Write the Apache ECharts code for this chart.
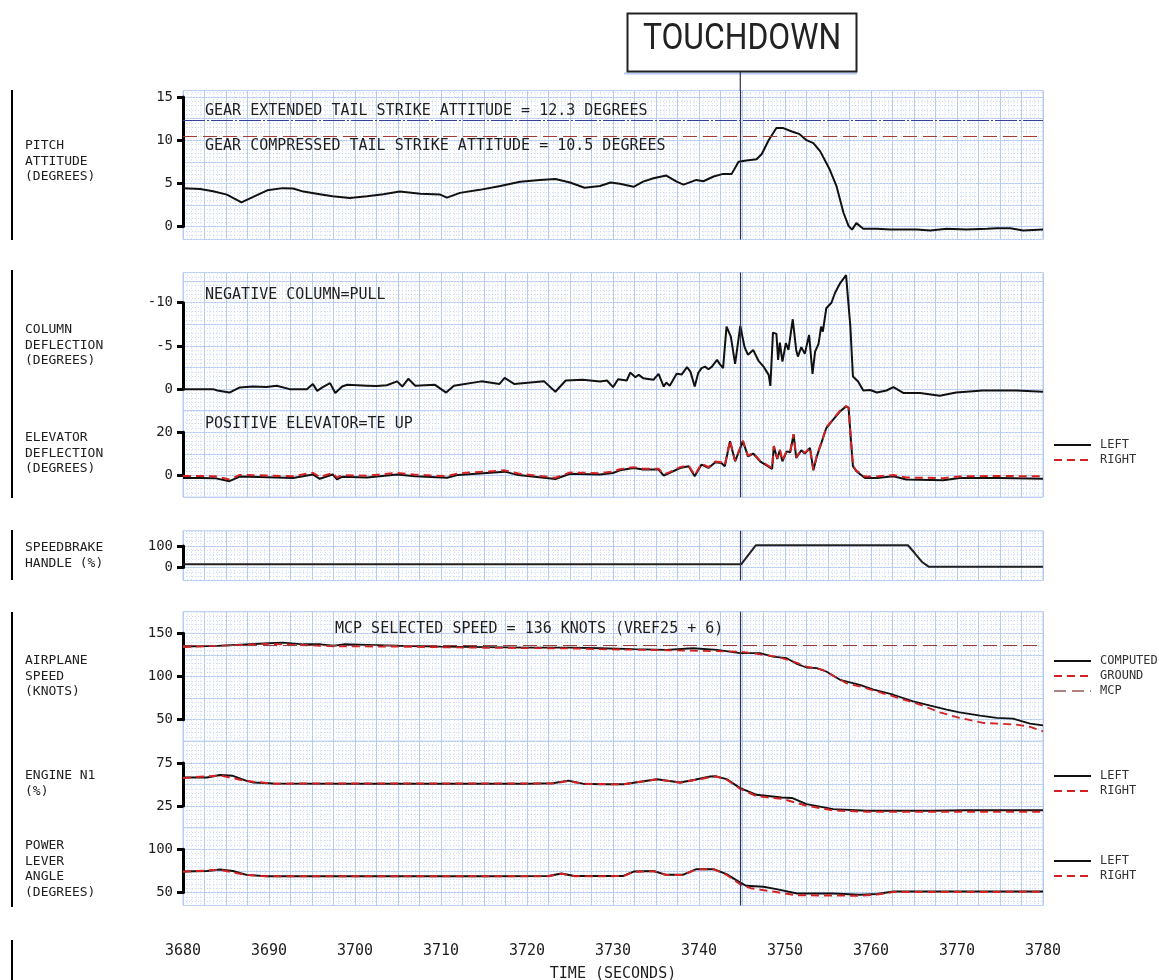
<!DOCTYPE html>
<html lang="en">
<head>
<meta charset="utf-8">
<title>Touchdown traces</title>
<script src="https://cdn.jsdelivr.net/npm/echarts@6/dist/echarts.min.js"></script>
<style>
  html, body { margin: 0; padding: 0; background: #fff; }
  #chart { width: 1159px; height: 980px; }
</style>
</head>
<body>
<div id="chart"></div>
<script>
// ---- values: [time (s), value] ----
var touchdownTime = 3744.8;
var gearExtendedLimit = 12.3;
var gearCompressedLimit = 10.5;
var mcpSpeed = 136;

var pitch = [[3680,4.45],[3682,4.35],[3683.5,4.1],[3685.1,3.7],[3686.8,2.8],[3688.1,3.4],[3689.8,4.2],[3691.6,4.45],
  [3692.8,4.4],[3694,4.05],[3695.9,3.75],[3697.4,3.5],[3699.4,3.3],[3701.4,3.5],[3703.3,3.75],[3705.2,4.05],[3707.6,3.8],
  [3709.9,3.7],[3710.7,3.35],[3712.2,3.9],[3714.5,4.25],[3716.9,4.7],[3719.2,5.2],[3721.5,5.4],[3723.3,5.5],[3725,5.1],
  [3726.7,4.5],[3728.5,4.7],[3729.7,5.1],[3730.8,4.95],[3732.4,4.6],[3733.5,5.2],[3734.7,5.6],[3736.2,5.9],[3737.4,5.2],
  [3738.2,4.85],[3739.7,5.4],[3740.5,5.25],[3741.7,5.8],[3742.8,6.1],[3743.8,6.1],[3744.6,7.5],[3745.5,7.65],[3746.7,7.8],
  [3747.3,8.4],[3748.1,10.0],[3749,11.4],[3749.8,11.4],[3750.8,11.0],[3751.7,10.7],[3752.5,10.0],[3753.3,9.65],[3754.1,8.7],
  [3755.2,6.6],[3756,4.65],[3756.8,1.6],[3757.4,0.05],[3757.8,-0.35],[3758.3,0.4],[3759.1,-0.25],[3760.7,-0.25],
  [3762.2,-0.35],[3765.3,-0.35],[3766.9,-0.45],[3768.8,-0.25],[3771.1,-0.35],[3773.5,-0.25],[3774.6,-0.2],[3776.2,-0.2],
  [3777.7,-0.45],[3780,-0.35]];

var column = [[3680,0],[3683.5,0],[3684,0.15],[3685.4,0.4],[3686.6,-0.2],[3688.1,-0.3],[3689.7,-0.25],[3690.9,-0.4],
  [3692.4,0],[3694.4,0],[3695.1,-0.6],[3695.6,0.2],[3696.2,-0.2],[3697.1,-0.7],[3697.7,0.45],[3698.5,-0.3],[3699.1,-0.5],
  [3701.4,-0.4],[3702.5,-0.35],[3703.7,-0.45],[3704.9,-0.9],[3705.5,-0.3],[3706.2,-1.2],[3707,-0.4],[3709.3,-0.5],
  [3710.6,0.4],[3711.5,-0.4],[3714.7,-0.9],[3716.8,-0.6],[3717.4,-1.3],[3718.5,-0.6],[3722,-0.9],[3723.3,0.3],[3724.5,-1.0],
  [3726.5,-1.1],[3728.5,-0.88],[3729.3,-1.0],[3730,-0.23],[3730.6,-1.15],[3731.6,-1.0],[3732,-1.92],[3732.6,-1.39],
  [3733,-1.65],[3733.5,-1.27],[3734.7,-1.08],[3735.3,-1.77],[3735.9,-0.3],[3736.2,-0.76],[3736.6,-0.38],[3737.4,-1.77],
  [3738,-1.7],[3738.6,-2.54],[3739,-2.03],[3739.5,-0.3],[3739.9,-1.85],[3740.3,-2.43],[3740.7,-2.61],[3741.1,-2.31],
  [3741.5,-2.61],[3742.1,-3.39],[3742.4,-2.92],[3742.8,-2.43],[3743.2,-7.24],[3743.7,-6.08],[3744.2,-2.92],[3744.8,-7.32],
  [3745.3,-4.86],[3745.7,-3.97],[3746.3,-4.54],[3746.9,-3.31],[3747.5,-2.61],[3748.1,-1.65],[3748.3,-0.38],[3748.6,-6.54],
  [3749,-6.39],[3749.2,-3.39],[3749.4,-5.39],[3749.7,-3.19],[3750.1,-5.32],[3750.4,-4.54],[3750.9,-8.09],[3751.3,-4.54],
  [3751.5,-3.77],[3751.9,-4.86],[3752.3,-4.08],[3752.8,-6.28],[3753.2,-1.77],[3753.5,-4.35],[3753.9,-5.24],[3754.2,-7.24],
  [3754.4,-6.66],[3754.8,-9.36],[3755.4,-10.0],[3755.8,-11.1],[3756.4,-12.25],[3757.1,-13.2],[3757.2,-13.1],[3757.6,-7.24],
  [3757.9,-1.46],[3758.5,-0.88],[3759.1,0.16],[3759.9,0.1],[3760.7,0.39],[3761.8,0.16],[3762.6,-0.23],[3763.8,0.46],
  [3765.7,0.46],[3768,0.77],[3769.9,0.39],[3773,0.16],[3776.9,0.16],[3780,0.31]];

var elevatorLeft = [[3680,-1.1],[3682,-1.1],[3683.7,-1.2],[3685.4,-2.6],[3686.6,-0.5],[3689.8,-0.8],[3692.8,-1.1],
  [3695.1,0.5],[3695.9,-1.5],[3697.4,0.5],[3697.9,-1.8],[3698.5,-0.6],[3701.4,-0.9],[3704.9,0.5],[3707,-0.3],[3710.7,-1.0],
  [3712,0.3],[3717.4,1.8],[3719,0.2],[3723.3,-1.6],[3725,0.8],[3728.5,0.46],[3730,1.2],[3730.8,2.4],[3732.4,3.5],
  [3733.5,2.8],[3735.3,2.8],[3735.9,0],[3736.6,1.2],[3737.8,3.5],[3738.8,4.3],[3739.5,-0.3],[3740.3,5.1],[3741.1,3.5],
  [3741.9,6.2],[3742.6,5.8],[3743,4.3],[3743.6,15.9],[3744.2,6.6],[3745.1,15.9],[3745.7,8.9],[3746.3,10.2],[3747.1,6.6],
  [3748.5,3.1],[3748.7,13.5],[3749.1,7.7],[3749.4,11.7],[3749.7,6.6],[3750.2,11.2],[3750.6,10.8],[3751,19],[3751.3,8.2],
  [3751.9,11.7],[3752.3,10.2],[3752.9,12.8],[3753.3,2.4],[3753.7,8.9],[3754.3,15.9],[3754.8,22],[3755.6,25.9],
  [3756.4,29.7],[3757.1,32],[3757.4,31.3],[3757.6,19.7],[3757.9,4.3],[3758.3,2],[3759.3,-1.1],[3760.7,-1.1],[3762.6,-0.3],
  [3764.1,-1.85],[3768.4,-2.2],[3770.3,-1.1],[3775,-1.1],[3780,-1.5]];

var elevatorRight = [[3680,-0.2],[3683.7,-0.3],[3685.4,-1.8],[3686.6,0.3],[3689.8,0],[3692.8,-0.3],[3695.1,1.3],
  [3695.9,-0.7],[3697.4,1.2],[3697.9,-1],[3698.5,0.2],[3701.4,-0.1],[3704.9,1.2],[3707,0.4],[3710.7,-0.3],[3712,1],
  [3717.4,2.4],[3719,0.9],[3723.3,-1],[3725,1.4],[3728.5,1.1],[3730,1.8],[3730.8,2.9],[3732.4,3.9],[3733.5,3.2],
  [3735.3,3.2],[3735.9,0.5],[3736.6,1.6],[3737.8,3.9],[3738.8,4.6],[3739.5,0.2],[3740.3,5.5],[3741.1,3.9],[3741.9,6.5],
  [3742.6,6.1],[3743,4.7],[3743.6,16.2],[3744.2,6.9],[3745.1,16.1],[3745.7,9.2],[3746.3,10.4],[3747.1,6.9],[3748.5,3.4],
  [3748.7,13.7],[3749.1,8],[3749.4,11.9],[3749.7,6.9],[3750.2,11.4],[3750.6,11],[3751,19.2],[3751.3,8.5],[3751.9,11.9],
  [3752.3,10.5],[3752.9,13],[3753.3,2.7],[3753.7,9.2],[3754.3,16.1],[3754.8,22.3],[3755.6,26.2],[3756.4,30],[3757.1,32.2],
  [3757.4,31.5],[3757.6,20],[3757.9,4.6],[3758.3,2.3],[3759.3,-0.5],[3760.7,-0.4],[3762.6,0.2],[3764.1,-0.9],
  [3768.4,-1.2],[3770.3,-0.4],[3775,-0.2],[3780,-0.4]];

var speedbrake = [[3680,15],[3744.9,15],[3746.6,103],[3764.3,103],[3765.1,66],[3765.9,27],[3766.7,4],[3780,4]];

var speedComputed = [[3680,134.6],[3684,135.4],[3690,138.5],[3691.6,139.2],[3694,137.3],[3696,137.3],[3697.5,135.6],
  [3698.7,137.3],[3701.4,136.7],[3705,135.6],[3710,134.5],[3715,134],[3720,133.5],[3725,133.5],[3728.5,132.7],
  [3732.4,131.6],[3736.2,130.8],[3739.3,132.7],[3742.1,130.8],[3744.8,127],[3747.1,127],[3748.6,123],[3750.2,121.2],
  [3751.3,115],[3752.5,110.4],[3753.7,109.7],[3754.8,105.8],[3756.4,96.2],[3758.7,90.4],[3760.3,84.7],[3762.6,78.9],
  [3764.9,71.2],[3766.9,66.2],[3768.8,61.6],[3770.3,58.5],[3772.7,54.7],[3774.6,52.1],[3776.5,51.3],[3778.5,45.5],
  [3780,43.5]];

var speedGround = [[3680,133.9],[3690,137.8],[3696,135.6],[3697.5,135],[3705,134.5],[3715,133.3],[3725,132.5],
  [3728.5,131.6],[3736.2,130.4],[3744.8,128.8],[3747.1,125.6],[3749,123],[3751,117.3],[3752.5,111.5],[3754.4,107.7],
  [3757.1,92.4],[3759.4,86.6],[3762.6,77],[3765.7,67.4],[3768,58.5],[3770.3,52.1],[3773,46.3],[3776.9,44.4],
  [3778.5,41.7],[3780,36.6]];

var n1Left = [[3680,58],[3682.8,58],[3684.3,61],[3685.8,60],[3687.4,54.2],[3688.2,52.3],[3690.5,51.1],[3700,51],
  [3710,51],[3720,51],[3723,51.5],[3724.8,54.5],[3726.5,51],[3728.5,50.4],[3731.2,50.4],[3733,53],[3735.1,56.2],
  [3737.8,52.3],[3739.5,55.5],[3741.3,59.2],[3741.9,59.6],[3743.2,56.2],[3744.8,45.8],[3746.7,38],[3749.6,35],
  [3750.8,34.5],[3752.5,27.3],[3755.6,21.5],[3759.5,19.5],[3767.2,19.5],[3771.1,20.3],[3780,20.3]];

var n1Right = [[3680,57.5],[3684.3,60.5],[3687.4,54],[3690.5,51],[3723,51.2],[3724.8,54],[3726.5,50.8],[3731.2,50.2],
  [3735.1,56],[3737.8,52],[3739.5,55.2],[3741.9,59.5],[3743.2,55.8],[3744.8,45],[3746.7,36.5],[3749.6,33.5],
  [3752.5,25.5],[3755.6,20],[3759.5,18.5],[3780,18.6]];

var plaLeft = [[3680,74.2],[3682.8,74.9],[3684.3,76.5],[3685.8,74.9],[3687.4,70.4],[3689.7,68.9],[3705.2,68.9],
  [3715,68.9],[3722.5,69],[3724,72],[3725.5,69],[3728.5,69.2],[3731.2,69.2],[3732.4,74.2],[3734.7,74.9],[3736.2,70.4],
  [3738.1,70.4],[3739.7,77],[3741.7,77],[3743.2,71.2],[3744.8,61.5],[3745.5,57.7],[3747.5,56.6],[3749,53.9],[3751.4,48.8],
  [3755.6,48.8],[3758.7,47.4],[3760.7,48.2],[3762.6,51.2],[3767.2,51.2],[3780,51.2]];

var plaRight = [[3680,74],[3684.3,76.3],[3687.4,70.2],[3689.7,68.8],[3722.5,68.8],[3724,71.8],[3725.5,68.8],
  [3731.2,69],[3732.4,74],[3734.7,74.7],[3736.2,70.2],[3738.1,70.2],[3739.7,76.8],[3741.7,76.8],[3743.2,70.5],
  [3744.8,59.5],[3746,55],[3749,50.5],[3751.4,46.8],[3755.6,46.5],[3758.7,46.3],[3760.7,47.6],[3762.6,50.5],[3780,50.8]];

// ---- layout ----
var T0 = 3680, T1 = 3780;
var LEFT = 183, WIDTH = 860, CELL = 21.6;
var MONO = '"DejaVu Sans Mono", monospace';
var MAJOR = '#b5cbf3', MINOR = '#cbdaf6';
var INK = '#1e1e1e';

// each panel: paper box (min..max) plus a black bracket axis over the labelled range
var panels = [
  {key: 'pitch', top: 90.5, min: -1.5, max: 15.75, major: 2.5, ticks: [0, 15], step: 5},
  {key: 'column', top: 272.5, min: -13.5, max: 2.5, major: 2.5, ticks: [-10, 0], step: 5, inverse: true},
  {key: 'elevator', min: -10, max: 30, major: 10, ticks: [0, 20], step: 20},
  {key: 'speedbrake', top: 530.8, min: -60, max: 170, major: 100, ticks: [0, 100], step: 100},
  {key: 'speed', top: 611.7, min: 25, max: 175, major: 25, ticks: [50, 150], step: 50},
  {key: 'n1', min: 0, max: 100, major: 25, ticks: [25, 75], step: 50},
  {key: 'pla', min: 35, max: 125, major: 25, ticks: [50, 100], step: 50}
];

var grids = [], xAxes = [], yAxes = [];
var ax = {};
var hide = {axisLine: {show: false}, axisTick: {show: false}, axisLabel: {show: false}};

panels.forEach(function (p, i) {
  if (p.top == null) p.top = panels[i - 1].top + panels[i - 1].h;
  p.h = (p.max - p.min) / p.major * CELL;
  var g = grids.length;
  grids.push({left: LEFT, width: WIDTH, top: p.top, height: p.h, show: true,
    borderColor: MAJOR, borderWidth: 1, backgroundColor: '#fff'});
  xAxes.push(Object.assign({gridIndex: g, type: 'value', min: T0, max: T1, interval: 2.5,
    splitLine: {show: true, lineStyle: {color: MAJOR, width: 1}},
    minorTick: {show: false, splitNumber: 5},
    minorSplitLine: {show: true, lineStyle: {color: MINOR, width: 1, type: [1, 2]}}}, hide));
  var majors = [];
  for (var k = Math.ceil(p.min / p.major - 1e-9); k * p.major <= p.max + 1e-9; k++) majors.push(+(k * p.major).toFixed(4));
  yAxes.push({gridIndex: g, type: 'value', min: p.min, max: p.max, inverse: !!p.inverse,
    axisLine: {show: false}, axisTick: {show: false, customValues: majors}, axisLabel: {show: false},
    splitLine: {show: true, lineStyle: {color: MAJOR, width: 1}}});
  yAxes.push(Object.assign({gridIndex: g, type: 'value', min: p.min, max: p.max, inverse: !!p.inverse,
    interval: p.major / 5, splitLine: {show: true, lineStyle: {color: MINOR, width: 1, type: [1, 2]}}}, hide));
  ax[p.key] = {x: xAxes.length - 1, y: yAxes.length - 2};

  var lo = p.ticks[0], hi = p.ticks[1];
  var bTop = p.inverse ? p.top + (lo - p.min) / p.major * CELL : p.top + (p.max - hi) / p.major * CELL;
  grids.push({left: LEFT, width: WIDTH, top: bTop, height: (hi - lo) / p.major * CELL});
  xAxes.push({gridIndex: g + 1, type: 'value', min: T0, max: T1, show: false});
  yAxes.push({gridIndex: g + 1, type: 'value', min: lo, max: hi, interval: p.step, inverse: !!p.inverse,
    axisLine: {show: true, onZero: false, lineStyle: {color: '#000', width: 3}},
    axisTick: {show: true, length: 6, lineStyle: {color: '#000', width: 3}},
    axisLabel: {margin: 10, color: INK, fontFamily: MONO, fontSize: 14},
    splitLine: {show: false}});
});

// time axis under everything
grids.push({left: LEFT, width: WIDTH, top: 930, height: 1});
xAxes.push({gridIndex: grids.length - 1, type: 'value', min: T0, max: T1, interval: 10,
  axisLine: {show: false}, axisTick: {show: false}, splitLine: {show: false},
  axisLabel: {margin: 13, color: INK, fontFamily: MONO, fontSize: 15, showMinLabel: true, showMaxLabel: true,
    formatter: function (v) { return String(v); }},
  name: 'TIME (SECONDS)', nameLocation: 'middle', nameGap: 36,
  nameTextStyle: {color: INK, fontFamily: MONO, fontSize: 15}});
yAxes.push({gridIndex: grids.length - 1, type: 'value', show: false});

function touchdown(extra) {
  return {silent: true, symbol: 'none', label: {show: false}, animation: false,
    lineStyle: {color: '#2c3150', width: 1.2, type: 'solid'},
    data: [{xAxis: touchdownTime}].concat(extra || [])};
}

function trace(name, data, key, color, dashed, width, mark, clip) {
  return {name: name, type: 'line', data: data, xAxisIndex: ax[key].x, yAxisIndex: ax[key].y,
    showSymbol: false, symbol: 'none', clip: clip !== false, z: 3,
    lineStyle: {color: color, width: width || 2, type: dashed ? [8, 5] : 'solid'},
    itemStyle: {color: color}, markLine: mark};
}

var BLACK = '#111', RED = '#d42222';
var series = [
  trace('PITCH', pitch, 'pitch', BLACK, false, 2, touchdown([
    {yAxis: gearExtendedLimit, lineStyle: {color: '#34429e', width: 1, type: [22, 2, 2, 2]}},
    {yAxis: gearCompressedLimit, lineStyle: {color: '#a23a36', width: 1, type: [14, 6]}}])),
  trace('COLUMN', column, 'column', BLACK, false, 2, touchdown()),
  trace('LEFT', elevatorLeft, 'elevator', BLACK, false, 2, touchdown(), false),
  trace('RIGHT', elevatorRight, 'elevator', RED, true, 2, null, false),
  trace('SPEEDBRAKE', speedbrake, 'speedbrake', '#222', false, 2, touchdown()),
  trace('COMPUTED', speedComputed, 'speed', BLACK, false, 1.8, touchdown()),
  trace('GROUND', speedGround, 'speed', RED, true, 1.8),
  {name: 'MCP', type: 'line', data: [], xAxisIndex: ax.speed.x, yAxisIndex: ax.speed.y, symbol: 'none',
    lineStyle: {color: '#b08282', width: 2, type: [12, 6]}, itemStyle: {color: '#b08282'},
    markLine: {silent: true, symbol: 'none', label: {show: false}, animation: false,
      lineStyle: {color: '#963c3c', width: 1, type: [14, 6]}, data: [{yAxis: mcpSpeed}]}},
  trace('LEFT', n1Left, 'n1', BLACK, false, 2, touchdown()),
  trace('RIGHT', n1Right, 'n1', RED, true, 2),
  trace('LEFT', plaLeft, 'pla', BLACK, false, 2, touchdown()),
  trace('RIGHT', plaRight, 'pla', RED, true, 2)
];

function legend(names, top) {
  return {data: names, left: 1053, top: top, orient: 'vertical', padding: 0,
    itemWidth: 37, itemHeight: 12, itemGap: 3, selectedMode: false,
    itemStyle: {color: 'rgba(0,0,0,0)', borderColor: 'rgba(0,0,0,0)', borderWidth: 0},
    textStyle: {color: '#333', fontFamily: MONO, fontSize: 12, padding: [0, 0, 0, 4]}};
}

// ---- static text and frame marks ----
var graphics = [];
function text(x, y, s, size) {
  graphics.push({type: 'text', x: x, y: y, silent: true, z: 10,
    style: {text: s, fill: INK, font: size + 'px ' + MONO, textVerticalAlign: 'middle'}});
}
function sideLabel(yFirst, s) {
  graphics.push({type: 'text', x: 25, y: yFirst - 7.75, silent: true,
    style: {text: s, fill: INK, font: '13px ' + MONO, lineHeight: 15.5, textVerticalAlign: 'top'}});
}
function bar(y1, y2) {
  graphics.push({type: 'line', silent: true, shape: {x1: 12, y1: y1, x2: 12, y2: y2}, style: {stroke: '#000', lineWidth: 2}});
}

text(205, 111.5, 'GEAR EXTENDED TAIL STRIKE ATTITUDE = 12.3 DEGREES', 15);
text(205, 146, 'GEAR COMPRESSED TAIL STRIKE ATTITUDE = 10.5 DEGREES', 15);
text(205, 295, 'NEGATIVE COLUMN=PULL', 15);
text(205, 424.5, 'POSITIVE ELEVATOR=TE UP', 15);
text(335, 629, 'MCP SELECTED SPEED = 136 KNOTS (VREF25 + 6)', 15);

sideLabel(146, 'PITCH\nATTITUDE\n(DEGREES)');
sideLabel(330, 'COLUMN\nDEFLECTION\n(DEGREES)');
sideLabel(438, 'ELEVATOR\nDEFLECTION\n(DEGREES)');
sideLabel(548, 'SPEEDBRAKE\nHANDLE (%)');
sideLabel(661, 'AIRPLANE\nSPEED\n(KNOTS)');
sideLabel(776, 'ENGINE N1\n(%)');
sideLabel(846, 'POWER\nLEVER\nANGLE\n(DEGREES)');

bar(90, 240); bar(270, 498); bar(530, 580); bar(612, 907); bar(940, 980);

var tdX = LEFT + (touchdownTime - T0) / (T1 - T0) * WIDTH;
graphics.push({type: 'line', silent: true, shape: {x1: 624, y1: 73.5, x2: 857, y2: 73.5}, style: {stroke: MAJOR, lineWidth: 2}});
graphics.push({type: 'line', silent: true, shape: {x1: tdX, y1: 72, x2: tdX, y2: 91}, style: {stroke: '#2c3150', lineWidth: 1.2}});
graphics.push({type: 'rect', silent: true, shape: {x: 627.5, y: 13.5, width: 229, height: 58},
  style: {fill: '#fff', stroke: '#222', lineWidth: 2}});
graphics.push({type: 'text', silent: true, x: 742, y: 40, scaleX: 0.86,
  style: {text: 'TOUCHDOWN', fill: '#222', font: '37px Roboto', textAlign: 'center', textVerticalAlign: 'middle'}});

var chart = echarts.init(document.getElementById('chart'));
chart.setOption({
  animation: false,
  backgroundColor: '#fff',
  grid: grids,
  xAxis: xAxes,
  yAxis: yAxes,
  legend: [
    legend(['LEFT', 'RIGHT'], 439),
    legend(['COMPUTED', 'GROUND', 'MCP'], 655),
    legend(['LEFT', 'RIGHT'], 770),
    legend(['LEFT', 'RIGHT'], 855)
  ],
  series: series,
  graphic: graphics
});
</script>
</body>
</html>
